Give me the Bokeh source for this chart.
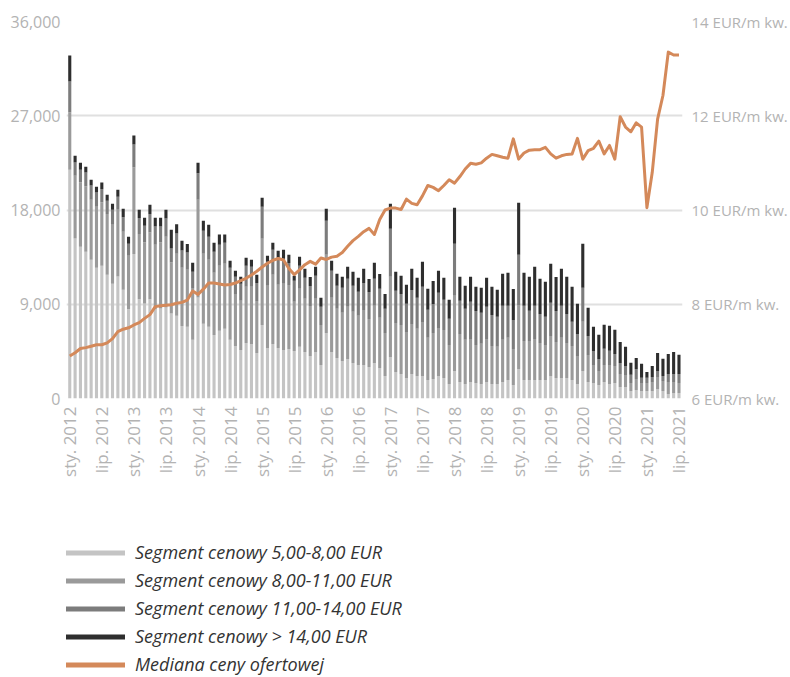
import math
from bokeh.plotting import figure
from bokeh.models import (Range1d, LinearAxis, FixedTicker, NumeralTickFormatter,
                          ColumnDataSource, Legend, LegendItem)
from bokeh.layouts import column
from bokeh.embed import file_html
from bokeh.resources import INLINE

# ---- data ----
seg_5_8 = [21850, 15270, 14490, 14010, 13250, 12480, 12670, 11810, 10950, 11650, 10380, 8530,
           13790, 9480, 9070, 9480, 8530, 8590, 8690, 8110, 7890, 6930, 6840, 5600,
           9640, 7130, 6840, 6070, 6460, 6650, 5600, 5020, 4640, 5310, 5210, 4350,
           7030, 4830, 5210, 4830, 4640, 4730, 4540, 4930, 4450, 4060, 4450, 3200,
           6260, 4450, 3870, 3590, 3780, 3400, 3200, 3200, 3010, 3400, 2920, 2150,
           3970, 2530, 2340, 1960, 2340, 2150, 2150, 1770, 1860, 2150, 1960, 1390,
           2630, 1580, 1390, 1580, 1480, 1390, 1580, 1390, 1390, 1580, 1770, 1290,
           2820, 1770, 1770, 1770, 1770, 1770, 2150, 1960, 1960, 1960, 1770, 1390,
           2630, 1580, 1480, 1290, 1580, 1390, 1480, 1100, 1100, 720, 810, 720,
           720, 720, 910, 720, 430, 530, 530]
seg_8_11 = [5490, 5990, 6150, 6250, 5740, 5830, 6060, 5800, 5640, 6440, 5550, 5100,
            8260, 6220, 5830, 6380, 6150, 6310, 6760, 4880, 5930, 5550, 5450, 4940,
            9340, 6690, 6410, 5930, 6220, 6220, 5160, 4970, 4690, 5360, 5450, 4970,
            8230, 5930, 6600, 6030, 6310, 6120, 4690, 5550, 5070, 4780, 5070, 3830,
            7460, 5160, 4690, 4590, 4970, 4880, 4690, 5260, 4590, 5450, 4780, 4110,
            7650, 4690, 4690, 4400, 4780, 4500, 5160, 4020, 4400, 4590, 4590, 3730,
            7170, 4590, 4210, 4110, 3630, 3830, 4110, 3630, 3540, 4020, 4020, 3440,
            6120, 3730, 3730, 3920, 3540, 3350, 3830, 3440, 3830, 3350, 3250, 2680,
            4690, 2580, 1720, 1340, 1630, 1820, 1630, 1240, 1150, 770, 1050, 770,
            770, 860, 1150, 960, 1150, 1050, 960]
seg_11_14 = [2930, 1280, 1210, 1310, 1340, 1370, 1280, 1280, 1430, 1180, 1370, 1150,
             2200, 1530, 1590, 1750, 1750, 1530, 1750, 1340, 1940, 1660, 1660, 1560,
             2520, 2200, 2200, 2010, 2010, 2010, 1720, 1630, 1630, 2010, 1910, 1720,
             3060, 2300, 2390, 2580, 2390, 2100, 2010, 2200, 2010, 1910, 2200, 1720,
             3250, 2580, 2200, 2390, 2680, 2490, 2300, 2580, 2580, 2580, 2770, 2300,
             4590, 3060, 2960, 2680, 3250, 2960, 3350, 2680, 2770, 3350, 2870, 2490,
             4970, 3160, 2960, 3540, 3250, 2960, 3060, 2960, 2870, 3250, 3060, 2770,
             4780, 3350, 2870, 3160, 2770, 2680, 3160, 2960, 3060, 2770, 2300, 2100,
             3250, 1820, 1340, 1150, 1530, 1340, 1150, 1050, 860, 770, 960, 480,
             480, 480, 570, 480, 770, 770, 860]
seg_14_plus = [2490, 640, 670, 570, 570, 540, 610, 570, 570, 670, 830, 670,
               860, 800, 770, 890, 830, 830, 830, 1790, 890, 920, 800, 860,
               1020, 960, 1150, 860, 960, 770, 670, 570, 670, 770, 670, 770,
               860, 570, 670, 670, 860, 770, 480, 860, 860, 860, 860, 860,
               1150, 960, 1150, 1050, 1150, 1340, 1340, 1340, 1240, 1530, 1430, 1430,
               2390, 1820, 1720, 1820, 2010, 1910, 2390, 2010, 2200, 2100, 2100, 1820,
               3440, 2300, 2200, 2390, 2300, 2390, 2770, 2680, 2580, 3060, 3160, 2960,
               4970, 3160, 3250, 3730, 3350, 3350, 3730, 3250, 3540, 3540, 3350, 2870,
               4210, 2680, 2300, 2300, 2300, 2390, 2300, 2010, 1820, 1150, 1050, 1340,
               570, 1050, 1720, 1630, 1910, 2100, 1820]
median_price = [6.90, 6.97, 7.06, 7.08, 7.11, 7.14, 7.14, 7.18, 7.27, 7.42, 7.47, 7.50,
                7.56, 7.61, 7.70, 7.78, 7.95, 7.97, 7.98, 7.99, 8.02, 8.04, 8.09, 8.28,
                8.21, 8.32, 8.45, 8.45, 8.43, 8.41, 8.42, 8.45, 8.50, 8.55, 8.62, 8.70,
                8.79, 8.87, 8.93, 8.97, 8.94, 8.76, 8.63, 8.73, 8.84, 8.91, 8.85, 8.98,
                8.95, 9.00, 9.02, 9.10, 9.23, 9.35, 9.44, 9.54, 9.61, 9.48, 9.80, 10.00,
                10.04, 10.04, 10.01, 10.23, 10.14, 10.11, 10.30, 10.52, 10.48, 10.41, 10.52, 10.64,
                10.57, 10.71, 10.87, 10.99, 10.97, 11.00, 11.10, 11.18, 11.15, 11.12, 11.10, 11.51,
                11.08, 11.21, 11.27, 11.28, 11.28, 11.33, 11.19, 11.10, 11.15, 11.18, 11.19, 11.52,
                11.08, 11.26, 11.31, 11.46, 11.19, 11.37, 11.08, 11.98, 11.76, 11.66, 11.85, 11.76,
                10.05, 10.80, 11.93, 12.43, 13.35, 13.29, 13.29]
month_index = list(range(len(seg_5_8)))
tick_months = [0, 6, 12, 18, 24, 30, 36, 42, 48, 54, 60, 66, 72, 78, 84, 90, 96, 102, 108, 114]
tick_labels = ["sty. 2012", "lip. 2012", "sty. 2013", "lip. 2013", "sty. 2014", "lip. 2014",
               "sty. 2015", "lip. 2015", "sty. 2016", "lip. 2016", "sty. 2017", "lip. 2017",
               "sty. 2018", "lip. 2018", "sty. 2019", "lip. 2019", "sty. 2020", "lip. 2020",
               "sty. 2021", "lip. 2021"]
left_ticks = [0, 9000, 18000, 27000, 36000]
right_ticks = [6, 8, 10, 12, 14]
right_labels = ["6 EUR/m kw.", "8 EUR/m kw.", "10 EUR/m kw.", "12 EUR/m kw.", "14 EUR/m kw."]
series_names = ["Segment cenowy 5,00-8,00 EUR", "Segment cenowy 8,00-11,00 EUR",
                "Segment cenowy 11,00-14,00 EUR", "Segment cenowy > 14,00 EUR"]
line_name = "Mediana ceny ofertowej"

# ---- styling ----
bar_colors = ["#c4c4c4", "#9a9a9a", "#7c7c7c", "#2e2e2e"]
line_color = "#d4895a"
label_color = "#b3b3b3"
FONT = "Open Sans"

source = ColumnDataSource(dict(x=month_index, s1=seg_5_8, s2=seg_8_11, s3=seg_11_14,
                               s4=seg_14_plus, median=median_price))

p = figure(width=790, height=498, output_backend="svg", toolbar_location=None,
           x_range=Range1d(-0.61, 114.66), y_range=Range1d(0, 36000),
           min_border_left=66, min_border_right=102, min_border_top=21, min_border_bottom=100)
p.outline_line_color = None
p.background_fill_color = "white"
p.border_fill_color = "white"

p.vbar_stack(["s1", "s2", "s3", "s4"], x="x", width=0.58, source=source,
             fill_color=bar_colors, line_color=None)

p.extra_y_ranges = {"price": Range1d(6, 14)}
p.line(x="x", y="median", source=source, y_range_name="price",
       line_color=line_color, line_width=3, line_join="round")

# left axis
lt = FixedTicker(ticks=left_ticks)
ya = p.yaxis[0]
ya.ticker = lt
ya.formatter = NumeralTickFormatter(format="0,0")
p.ygrid.ticker = lt
p.ygrid.grid_line_color = "#e0e0e0"
p.ygrid.grid_line_width = 2
p.xgrid.grid_line_color = None

# right axis
ra = LinearAxis(y_range_name="price", ticker=FixedTicker(ticks=right_ticks),
                major_label_overrides=dict(zip(right_ticks, right_labels)))
p.add_layout(ra, "right")

# x axis
xa = p.xaxis[0]
xa.ticker = FixedTicker(ticks=tick_months)
xa.major_label_overrides = dict(zip(tick_months, tick_labels))
xa.major_label_orientation = math.pi / 2

for ax in [ya, ra, xa]:
    ax.axis_line_color = None
    ax.major_tick_line_color = None
    ax.minor_tick_line_color = None
    ax.major_tick_out = 0
    ax.major_tick_in = 0
    ax.major_label_text_color = label_color
    ax.major_label_text_font = FONT
ya.major_label_text_font_size = "16px"
ya.major_label_standoff = 6
ra.major_label_text_font_size = "15px"
ra.major_label_standoff = 9
xa.major_label_text_font_size = "17px"
xa.major_label_standoff = 8

# legend figure (legend only)
pl = figure(width=790, height=178, output_backend="svg", toolbar_location=None,
            x_range=Range1d(0, 1), y_range=Range1d(0, 1), x_axis_type=None, y_axis_type=None,
            min_border=0)
pl.outline_line_color = None
pl.xgrid.visible = False
pl.ygrid.visible = False
nan = float("nan")
items = []
for name, col in zip(series_names, bar_colors):
    r = pl.line(x=[nan], y=[nan], line_color=col, line_width=5)
    items.append(LegendItem(label=name, renderers=[r]))
r = pl.line(x=[nan], y=[nan], line_color=line_color, line_width=5)
items.append(LegendItem(label=line_name, renderers=[r]))
legend = Legend(items=items, location=(-3, 0), orientation="vertical",
                glyph_width=62, glyph_height=21, label_height=21, spacing=4,
                padding=0, margin=0, label_standoff=10,
                border_line_color=None, background_fill_alpha=0,
                label_text_font=FONT, label_text_font_style="italic",
                label_text_font_size="18px", label_text_color="#333333")
pl.add_layout(legend)

layout = column(p, pl)
open("out.html", "w").write(file_html(layout, INLINE))
